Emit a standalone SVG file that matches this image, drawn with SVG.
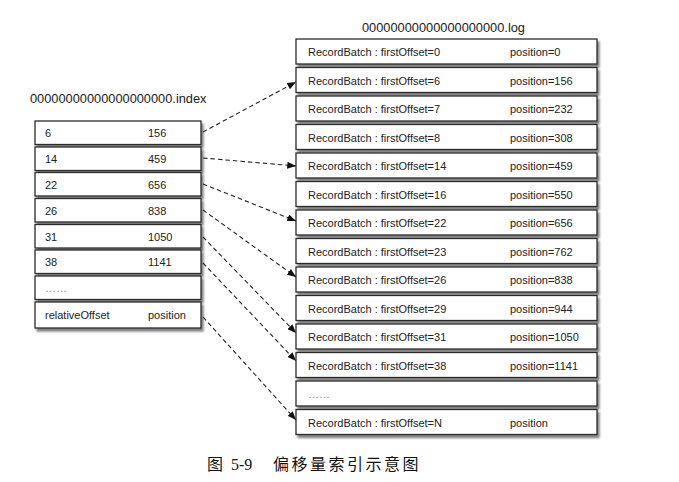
<svg xmlns="http://www.w3.org/2000/svg" width="679" height="482" viewBox="0 0 679 482">
<style>
.box{fill:#fff;stroke:#2b2b2b;stroke-width:1.3;filter:url(#sh)}
.t{font-family:"Liberation Sans",Arial,sans-serif;font-size:11px;fill:#222}
.title{font-family:"Liberation Sans",Arial,sans-serif;font-size:12.8px;fill:#222}
.dots{font-family:"Liberation Sans",Arial,sans-serif;font-size:11px;fill:#888}
.conn{fill:none;stroke:#222;stroke-width:1.1;stroke-dasharray:4.5,3}
.cap{font-family:"Liberation Serif","Noto Sans CJK SC",serif;font-size:16px;fill:#111}
</style>
<defs>
<filter id="sh" x="-10%" y="-30%" width="120%" height="170%">
<feGaussianBlur in="SourceAlpha" stdDeviation="1.2"/>
<feOffset dx="2" dy="2.5" result="b"/>
<feComponentTransfer><feFuncA type="linear" slope="0.5"/></feComponentTransfer>
<feMerge><feMergeNode/><feMergeNode in="SourceGraphic"/></feMerge>
</filter>
<marker id="ah" viewBox="0 0 10 8" refX="10" refY="4" markerWidth="9" markerHeight="7" markerUnits="userSpaceOnUse" orient="auto">
<path d="M0,0 L10,4 L0,8 z" fill="#111"/>
</marker>
</defs>
<rect width="679" height="482" fill="#fff"/>

<text class="title" x="30" y="103">00000000000000000000.index</text>
<text class="title" x="362" y="32">00000000000000000000.log</text>

<g id="index">
<g id="idx0"><rect class="box" x="35" y="121" width="166" height="23.5"/><text class="t" x="45" y="137">6</text><text class="t" x="148" y="137">156</text></g>
<g id="idx1"><rect class="box" x="35" y="147" width="166" height="23.5"/><text class="t" x="45" y="163">14</text><text class="t" x="148" y="163">459</text></g>
<g id="idx2"><rect class="box" x="35" y="172.5" width="166" height="23.5"/><text class="t" x="45" y="188.5">22</text><text class="t" x="148" y="188.5">656</text></g>
<g id="idx3"><rect class="box" x="35" y="198.5" width="166" height="23.5"/><text class="t" x="45" y="214.5">26</text><text class="t" x="148" y="214.5">838</text></g>
<g id="idx4"><rect class="box" x="35" y="224.5" width="166" height="23.5"/><text class="t" x="45" y="240.5">31</text><text class="t" x="148" y="240.5">1050</text></g>
<g id="idx5"><rect class="box" x="35" y="250" width="166" height="23.5"/><text class="t" x="45" y="266">38</text><text class="t" x="148" y="266">1141</text></g>
<g id="idx6"><rect class="box" x="35" y="276" width="166" height="23.5"/><text class="dots" x="45" y="292">……</text></g>
<g id="idx7"><rect class="box" x="35" y="302" width="166" height="26"/><text class="t" x="45" y="319">relativeOffset</text><text class="t" x="148" y="319">position</text></g>
</g>

<g id="log">
<g id="log0"><rect class="box" x="296" y="39" width="301" height="25"/><text class="t" x="308" y="56">RecordBatch : firstOffset=0</text><text class="t" x="510" y="56">position=0</text></g>
<g id="log1"><rect class="box" x="296" y="67.5" width="301" height="25"/><text class="t" x="308" y="84.5">RecordBatch : firstOffset=6</text><text class="t" x="510" y="84.5">position=156</text></g>
<g id="log2"><rect class="box" x="296" y="96" width="301" height="25"/><text class="t" x="308" y="113">RecordBatch : firstOffset=7</text><text class="t" x="510" y="113">position=232</text></g>
<g id="log3"><rect class="box" x="296" y="124.5" width="301" height="25"/><text class="t" x="308" y="141.5">RecordBatch : firstOffset=8</text><text class="t" x="510" y="141.5">position=308</text></g>
<g id="log4"><rect class="box" x="296" y="153" width="301" height="25"/><text class="t" x="308" y="170">RecordBatch : firstOffset=14</text><text class="t" x="510" y="170">position=459</text></g>
<g id="log5"><rect class="box" x="296" y="181.5" width="301" height="25"/><text class="t" x="308" y="198.5">RecordBatch : firstOffset=16</text><text class="t" x="510" y="198.5">position=550</text></g>
<g id="log6"><rect class="box" x="296" y="210" width="301" height="25"/><text class="t" x="308" y="227">RecordBatch : firstOffset=22</text><text class="t" x="510" y="227">position=656</text></g>
<g id="log7"><rect class="box" x="296" y="238.5" width="301" height="25"/><text class="t" x="308" y="255.5">RecordBatch : firstOffset=23</text><text class="t" x="510" y="255.5">position=762</text></g>
<g id="log8"><rect class="box" x="296" y="267" width="301" height="25"/><text class="t" x="308" y="284">RecordBatch : firstOffset=26</text><text class="t" x="510" y="284">position=838</text></g>
<g id="log9"><rect class="box" x="296" y="295.5" width="301" height="25"/><text class="t" x="308" y="312.5">RecordBatch : firstOffset=29</text><text class="t" x="510" y="312.5">position=944</text></g>
<g id="log10"><rect class="box" x="296" y="324" width="301" height="25"/><text class="t" x="308" y="341">RecordBatch : firstOffset=31</text><text class="t" x="510" y="341">position=1050</text></g>
<g id="log11"><rect class="box" x="296" y="352.5" width="301" height="25"/><text class="t" x="308" y="369.5">RecordBatch : firstOffset=38</text><text class="t" x="510" y="369.5">position=1141</text></g>
<g id="log12"><rect class="box" x="296" y="381" width="301" height="25"/><text class="dots" x="308" y="398">……</text></g>
<g id="log13"><rect class="box" x="296" y="409.5" width="301" height="25"/><text class="t" x="308" y="426.5">RecordBatch : firstOffset=N</text><text class="t" x="510" y="426.5">position</text></g>
</g>

<g id="connectors">
<line class="conn" x1="203" y1="132" x2="296" y2="82" marker-end="url(#ah)"/>
<line class="conn" x1="203" y1="158" x2="296" y2="166" marker-end="url(#ah)"/>
<line class="conn" x1="203" y1="184" x2="296" y2="221" marker-end="url(#ah)"/>
<line class="conn" x1="203" y1="210" x2="296" y2="277" marker-end="url(#ah)"/>
<line class="conn" x1="203" y1="237" x2="296" y2="333" marker-end="url(#ah)"/>
<line class="conn" x1="203" y1="263" x2="296" y2="361" marker-end="url(#ah)"/>
<line class="conn" x1="203" y1="317" x2="296" y2="420" marker-end="url(#ah)"/>
</g>

<g id="caption">
<text class="cap" x="207" y="470">图</text>
<text class="cap" x="231" y="470">5-9</text>
<text class="cap" x="273" y="470" letter-spacing="2.5">偏移量索引示意图</text>
</g>
</svg>
